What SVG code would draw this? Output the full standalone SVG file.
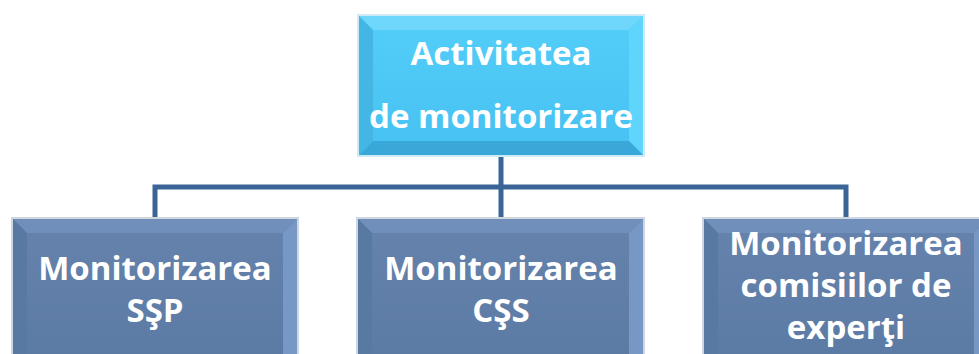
<svg xmlns="http://www.w3.org/2000/svg" width="979" height="354" viewBox="0 0 979 354">
<style>
.t{font-family:"Open Sans","Liberation Sans",sans-serif;font-weight:bold;font-size:33px;fill:#ffffff;text-anchor:middle}
.conn{fill:none;stroke:#3b6596;stroke-width:5}
</style>
<defs>
<linearGradient id="gTop" x1="0" y1="0" x2="0" y2="1"><stop offset="0" stop-color="#52cdf8"/><stop offset="1" stop-color="#48c2f2"/></linearGradient>
<linearGradient id="gDark" x1="0" y1="0" x2="0" y2="1"><stop offset="0" stop-color="#6482ab"/><stop offset="1" stop-color="#5c7ba4"/></linearGradient>
</defs>
<rect width="979" height="354" fill="#ffffff"/>
<g id="connectors">
<path class="conn" d="M501,156 V218"/>
<path class="conn" d="M155,218 V187 H846 V218"/>
</g>
<g id="top">
<rect x="357" y="14" width="288" height="143" fill="#cdeaf5"/>
<rect x="359" y="16" width="284" height="139" fill="url(#gTop)"/>
<polygon points="359,16 643,16 629,30 373,30" fill="#6fd7fb"/>
<polygon points="359,16 373,30 373,141 359,155" fill="#44b6e4"/>
<polygon points="643,16 643,155 629,141 629,30" fill="#5fd5fc"/>
<polygon points="359,155 373,141 629,141 643,155" fill="#39a8d8"/>
<rect x="373" y="30" width="256" height="111" fill="url(#gTop)"/>
<text class="t" x="501" y="65">Activitatea</text>
<text class="t" x="501" y="128">de monitorizare</text>
</g>
<g id="ssp">
<rect x="11" y="217" width="288" height="140" fill="#cfd6e0"/>
<rect x="13" y="219" width="284" height="140" fill="url(#gDark)"/>
<polygon points="13,219 297,219 283,233 27,233" fill="#7090bb"/>
<polygon points="13,219 27,233 27,359 13,359" fill="#587aa2"/>
<polygon points="297,219 297,359 283,359 283,233" fill="#7797c4"/>
<rect x="27" y="233" width="256" height="126" fill="url(#gDark)"/>
<text class="t" x="155" y="280">Monitorizarea</text>
<text class="t" x="155" y="322">SŞP</text>
</g>
<g id="css">
<rect x="356" y="217" width="289" height="140" fill="#cfd6e0"/>
<rect x="358" y="219" width="285" height="140" fill="url(#gDark)"/>
<polygon points="358,219 643,219 629,233 372,233" fill="#7090bb"/>
<polygon points="358,219 372,233 372,359 358,359" fill="#587aa2"/>
<polygon points="643,219 643,359 629,359 629,233" fill="#7797c4"/>
<rect x="372" y="233" width="257" height="126" fill="url(#gDark)"/>
<text class="t" x="501" y="280">Monitorizarea</text>
<text class="t" x="501" y="322">CŞS</text>
</g>
<g id="experti">
<rect x="702" y="217" width="288" height="140" fill="#cfd6e0"/>
<rect x="704" y="219" width="284" height="140" fill="url(#gDark)"/>
<polygon points="704,219 988,219 974,233 718,233" fill="#7090bb"/>
<polygon points="704,219 718,233 718,359 704,359" fill="#587aa2"/>
<polygon points="988,219 988,359 974,359 974,233" fill="#7797c4"/>
<rect x="718" y="233" width="256" height="126" fill="url(#gDark)"/>
<text class="t" x="846" y="255">Monitorizarea</text>
<text class="t" x="846" y="297">comisiilor de</text>
<text class="t" x="846" y="339">experţi</text>
</g>
</svg>
